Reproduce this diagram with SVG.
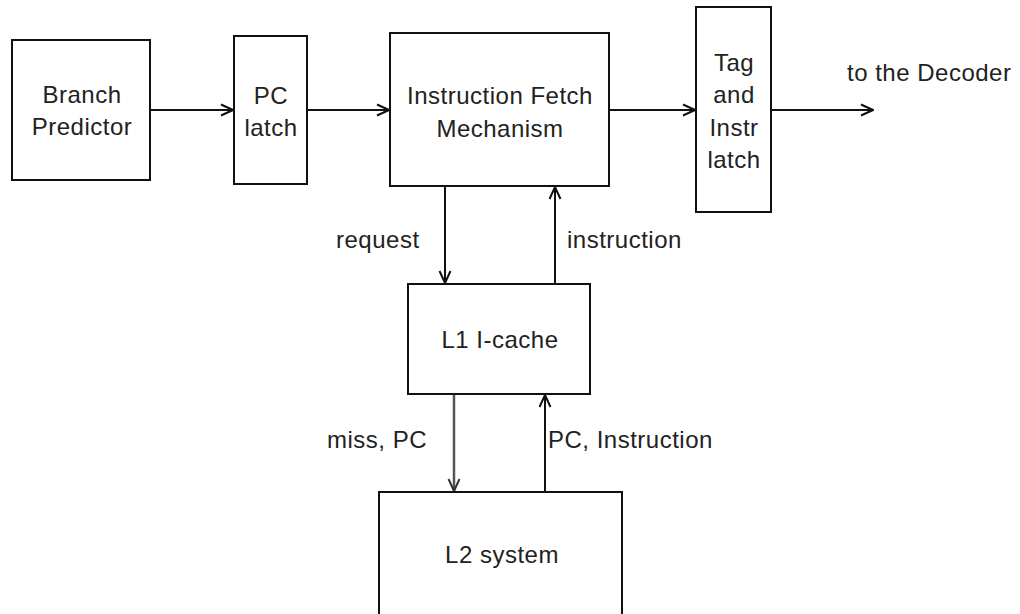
<svg xmlns="http://www.w3.org/2000/svg" width="1020" height="614" viewBox="0 0 1020 614">
<defs>
<marker id="ah" viewBox="0 0 14 14" refX="13" refY="7" markerWidth="14" markerHeight="14" markerUnits="userSpaceOnUse" orient="auto">
<path d="M1,1.5 L13,7 L1,12.5" fill="none" stroke="#111" stroke-width="2"/>
</marker>
<marker id="ahg" viewBox="0 0 14 14" refX="13" refY="7" markerWidth="14" markerHeight="14" markerUnits="userSpaceOnUse" orient="auto">
<path d="M1,1.5 L13,7 L1,12.5" fill="none" stroke="#333" stroke-width="2"/>
</marker>
</defs>
<style>
.box{fill:#fff;stroke:#111;stroke-width:2}
.t{font-family:"Liberation Sans",Arial,sans-serif;font-size:24px;letter-spacing:0.5px;fill:#222}
.c{text-anchor:middle}
.ln{stroke:#111;stroke-width:2;fill:none}
.lg{stroke:#555;stroke-width:2.5;fill:none}
</style>
<rect width="1020" height="614" fill="#fff"/>
<g id="connectors">
<line class="ln" x1="150" y1="110" x2="233" y2="110" marker-end="url(#ah)"/>
<line class="ln" x1="307" y1="110" x2="389" y2="110" marker-end="url(#ah)"/>
<line class="ln" x1="609" y1="110" x2="695" y2="110" marker-end="url(#ah)"/>
<line class="ln" x1="771" y1="110" x2="873" y2="110" marker-end="url(#ah)"/>
<line class="ln" x1="445" y1="186" x2="445" y2="283" marker-end="url(#ah)"/>
<line class="ln" x1="555" y1="284" x2="555" y2="187" marker-end="url(#ah)"/>
<line class="lg" x1="454" y1="394" x2="454" y2="491" marker-end="url(#ahg)"/>
<line class="ln" x1="545" y1="492" x2="545" y2="395" marker-end="url(#ah)"/>
<text class="t" x="336" y="248">request</text>
<text class="t" x="567" y="248">instruction</text>
<text class="t" x="327" y="448">miss, PC</text>
<text class="t" x="548" y="448">PC, Instruction</text>
<text class="t" x="847" y="81">to the Decoder</text>
</g>
<g id="branch-predictor">
<rect class="box" x="12" y="40" width="138" height="140"/>
<text class="t c" x="82" y="103">Branch</text>
<text class="t c" x="82" y="135">Predictor</text>
</g>
<g id="pc-latch">
<rect class="box" x="234" y="36" width="73" height="148"/>
<text class="t c" x="271" y="104">PC</text>
<text class="t c" x="271" y="136">latch</text>
</g>
<g id="instruction-fetch">
<rect class="box" x="390" y="33" width="219" height="153"/>
<text class="t c" x="500" y="104">Instruction Fetch</text>
<text class="t c" x="500" y="137">Mechanism</text>
</g>
<g id="tag-instr-latch">
<rect class="box" x="696" y="7" width="75" height="205"/>
<text class="t c" x="734" y="71">Tag</text>
<text class="t c" x="734" y="103">and</text>
<text class="t c" x="734" y="136">Instr</text>
<text class="t c" x="734" y="168">latch</text>
</g>
<g id="l1-icache">
<rect class="box" x="408" y="284" width="182" height="110"/>
<text class="t c" x="500" y="348">L1 I-cache</text>
</g>
<g id="l2-system">
<rect class="box" x="379" y="492" width="243" height="130"/>
<text class="t c" x="502" y="563">L2 system</text>
</g>
</svg>
